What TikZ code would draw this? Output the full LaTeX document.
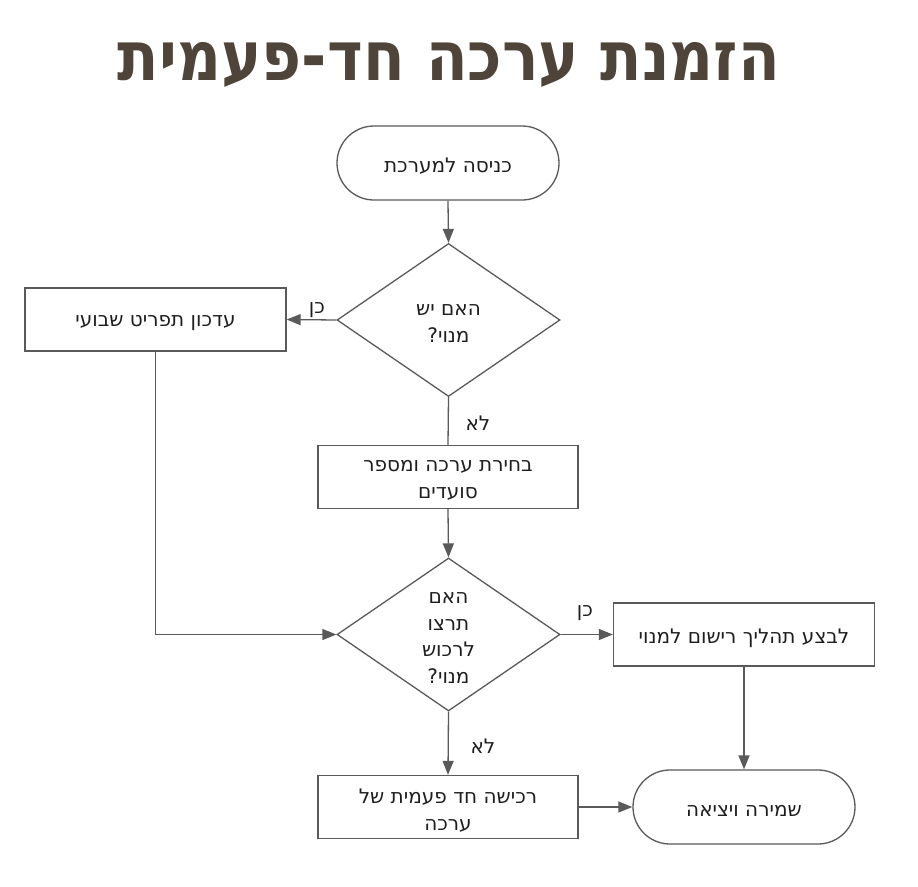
\documentclass[tikz,border=0pt]{standalone}
\usepackage{fontspec}
\usetikzlibrary{shapes.geometric,arrows.meta}
\TeXXeTstate=1
\newfontfamily\hebfont[Script=Hebrew]{DejaVu Sans}
\newfontfamily\titlefont[Script=Hebrew]{DejaVu Sans}
\newcommand\heb[1]{\raisebox{-3.5pt}[\height][\depth]{\beginR#1\endR}}
\newcommand\hebt[1]{\beginR#1\endR}
\definecolor{lc}{HTML}{5A5A5A}
\definecolor{tc}{HTML}{1E1E1E}
\definecolor{titlec}{HTML}{4F4439}
\begin{document}
\begin{tikzpicture}[x=1pt,y=-1pt,
  line/.style={draw=lc, line width=1.3pt},
  arr/.style={line, -{Triangle[length=14pt,width=11pt]}},
  txt/.style={font=\hebfont\fontsize{20}{26.5}\selectfont, text=tc, align=center, inner sep=0pt},
  box/.style={txt, draw=lc, line width=1.3pt, minimum width=261pt, minimum height=63pt},
  term/.style={box, rounded corners=37pt, minimum width=222pt, minimum height=74pt},
  dia/.style={draw=lc, line width=1.3pt, diamond, minimum width=223pt, minimum height=153pt, inner sep=0pt},
  titlest/.style={inner sep=0pt, text=titlec}]
\useasboundingbox[fill=white] (0,0) rectangle (918,886);

\node[titlest] (title) at (449,65) {\resizebox*{662pt}{45pt}{\titlefont\bfseries\hebt{הזמנת ערכה חד-פעמית}}};

\node[term] (start) at (448,163) {\heb{כניסה למערכת}};
\node[dia] (d1) at (448.5,320) {};
\node[txt] (d1t) at (d1) {\heb{האם יש}\\\heb{מנוי?}};
\node[box] (upd) at (155.5,319.5) {\heb{עדכון תפריט שבועי}};
\node[box, minimum width=260pt] (choose) at (448,477) {\heb{בחירת ערכה ומספר}\\\heb{סועדים}};
\node[dia] (d2) at (448.5,634.5) {};
\node[txt] (d2t) at (d2) {\heb{האם}\\\heb{תרצו}\\\heb{לרכוש}\\\heb{מנוי?}};
\node[box] (reg) at (744,634.5) {\heb{לבצע תהליך רישום למנוי}};
\node[box, minimum width=260pt] (buy) at (448,807) {\heb{רכישה חד פעמית של}\\\heb{ערכה}};
\node[term] (end) at (744,807) {\heb{שמירה ויציאה}};

\node[txt] (l1) at (317,307) {\heb{כן}};
\node[txt] (l2) at (478,420) {\heb{לא}};
\node[txt] (l3) at (585,610) {\heb{כן}};
\node[txt] (l4) at (483,743) {\heb{לא}};

\draw[arr] (start.south) -- (d1.north);
\draw[arr] (d1.west) -- (upd.east);
\draw[line] (d1.south) -- (choose.north);
\draw[arr] (choose.south) -- (d2.north);
\draw[arr] (upd.south) |- (d2.west);
\draw[arr] (d2.east) -- (reg.west);
\draw[arr] (d2.south) -- (buy.north);
\draw[arr] (reg.south) -- (end.north);
\draw[arr] (buy.east) -- (end.west);
\end{tikzpicture}
\end{document}
